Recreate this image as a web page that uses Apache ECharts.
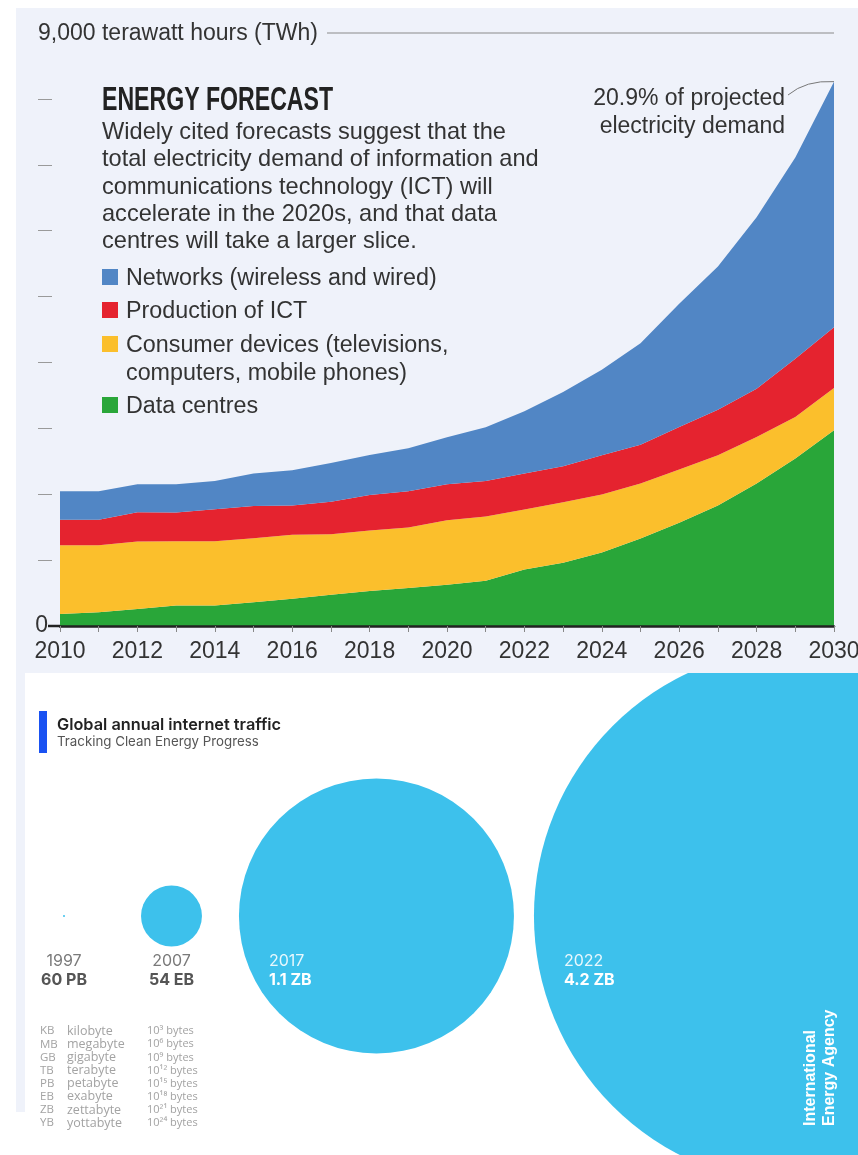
<!DOCTYPE html>
<html>
<head>
<meta charset="utf-8">
<script src="https://cdn.jsdelivr.net/npm/echarts@6/dist/echarts.min.js"></script>
<style>
  html, body { margin: 0; padding: 0; background: #ffffff; width: 858px; height: 1155px; overflow: hidden; }
  #panel { position: absolute; left: 16px; top: 8px; width: 842px; height: 665px; background: #eff2fa; }
  #strip { position: absolute; left: 16px; top: 673px; width: 9px; height: 439px; background: #eff2fa; }
  #topChart { position: absolute; left: 0; top: 0; width: 858px; height: 673px; }
  #bottomChart { position: absolute; left: 0; top: 673px; width: 858px; height: 482px; }
</style>
</head>
<body>
<div id="panel"></div>
<div id="strip"></div>
<div id="topChart"></div>
<div id="bottomChart"></div>
<script>
// ---------------- DATA: energy forecast (TWh) ----------------
const years = ['2010','2011','2012','2013','2014','2015','2016','2017','2018','2019','2020',
               '2021','2022','2023','2024','2025','2026','2027','2028','2029','2030'];
const dataCentres = [182, 207, 258, 313, 313, 359, 414, 475, 530, 576, 626, 687, 859, 960, 1116, 1328, 1566, 1828, 2162, 2541, 2970];
const consumerDevices = [1045, 1020, 1025, 975, 975, 974, 970, 919, 919, 919, 980, 975, 909, 919, 879, 834, 808, 763, 706, 630, 641];
const productionICT = [384, 384, 444, 434, 485, 490, 444, 490, 541, 550, 546, 540, 545, 545, 596, 588, 646, 692, 733, 885, 924];
const networks = [434, 434, 425, 430, 429, 490, 536, 591, 606, 652, 712, 813, 945, 1127, 1298, 1543, 1869, 2172, 2601, 3055, 3727];
const yMax = 9000;
const yTicks = [1000, 2000, 3000, 4000, 5000, 6000, 7000, 8000];
const seriesNames = ['Networks (wireless and wired)', 'Production of ICT',
                     'Consumer devices (televisions,\ncomputers, mobile phones)', 'Data centres'];

// ---------------- DATA: global annual internet traffic ----------------
const trafficYears = ['1997', '2007', '2017', '2022'];
const trafficZB = [0.00006, 0.054, 1.1, 4.2];           // zettabytes
const trafficLabels = ['60 PB', '54 EB', '1.1 ZB', '4.2 ZB'];
const unitAbbr = ['KB','MB','GB','TB','PB','EB','ZB','YB'];
const unitName = ['kilobyte','megabyte','gigabyte','terabyte','petabyte','exabyte','zettabyte','yottabyte'];
const unitBytes = ['10³ bytes','10⁶ bytes','10⁹ bytes','10¹² bytes','10¹⁵ bytes','10¹⁸ bytes','10²¹ bytes','10²⁴ bytes'];

// ---------------- STYLE ----------------
const FONT = "'Liberation Sans', Arial, sans-serif";
const TXT = '#333333';
const COLORS = { net: '#5186c5', prod: '#e5232f', cons: '#fbbf2c', dc: '#29a639' };
const BUBBLE = '#3dc1ec';

// ================= TOP CHART =================
const topChart = echarts.init(document.getElementById('topChart'), null, { renderer: 'canvas' });
function area(name, data, color) {
  return { name, type: 'line', stack: 'total', data, symbol: 'none', smooth: false,
           lineStyle: { width: 0 }, areaStyle: { color, opacity: 1 }, itemStyle: { color },
           silent: true };
}
topChart.setOption({
  animation: false,
  grid: { left: 60, right: 24, top: 33, bottom: 47, outerBoundsMode: 'none', containLabel: false },
  xAxis: {
    type: 'category', data: years, boundaryGap: false, z: 10,
    axisLine: { lineStyle: { color: '#222', width: 2.5 } },
    axisTick: { interval: 0, length: 6, lineStyle: { color: '#888', width: 1 } },
    axisLabel: { interval: 1, margin: 14, fontSize: 23, color: TXT, fontFamily: FONT, hideOverlap: false }
  },
  yAxis: {
    type: 'value', min: 0, max: yMax, interval: 1000, offset: 8,
    splitLine: { show: false },
    axisLine: { show: false },
    axisTick: { show: true, length: 14, customValues: yTicks, lineStyle: { color: '#9a9a9a', width: 1 } },
    axisLabel: { customValues: [0], margin: 4, fontSize: 23, color: TXT, fontFamily: FONT }
  },
  series: [
    area(seriesNames[3], dataCentres, COLORS.dc),
    area(seriesNames[2], consumerDevices, COLORS.cons),
    area(seriesNames[1], productionICT, COLORS.prod),
    area(seriesNames[0], networks, COLORS.net)
  ]
});

// positions derived from the axes
const yTop = topChart.convertToPixel({ yAxisIndex: 0 }, yMax);
const yZero = topChart.convertToPixel({ yAxisIndex: 0 }, 0);
const xFirst = topChart.convertToPixel({ xAxisIndex: 0 }, years[0]);
const last = years.length - 1;
const total2030 = dataCentres[last] + consumerDevices[last] + productionICT[last] + networks[last];
const pEnd = topChart.convertToPixel({ xAxisIndex: 0, yAxisIndex: 0 }, [years[last], total2030]);

const legendItems = [
  { name: seriesNames[0], color: COLORS.net, y: 277 },
  { name: seriesNames[1], color: COLORS.prod, y: 310 },
  { name: seriesNames[2], color: COLORS.cons, y: 344 },
  { name: seriesNames[3], color: COLORS.dc, y: 405 }
];
const topGraphics = [
  { type: 'text', x: 38, y: yTop + 1, silent: true,
    style: { text: '9,000 terawatt hours (TWh)', font: '23px ' + FONT, fill: TXT, verticalAlign: 'middle', align: 'left' } },
  { type: 'line', silent: true, shape: { x1: 327, y1: yTop, x2: pEnd[0], y2: yTop },
    style: { stroke: '#8a8a8a', lineWidth: 1 } },
  { type: 'line', silent: true, z: 10, shape: { x1: 48, y1: yZero, x2: xFirst, y2: yZero },
    style: { stroke: '#222', lineWidth: 2.5 } },
  { type: 'text', x: 102, y: 101, scaleX: 0.70, silent: true,
    style: { text: 'ENERGY FORECAST', font: 'bold 33px ' + FONT, fill: '#222', verticalAlign: 'middle', align: 'left' } },
  { type: 'text', x: 102, y: 119, silent: true,
    style: { text: 'Widely cited forecasts suggest that the\ntotal electricity demand of information and\ncommunications technology (ICT) will\naccelerate in the 2020s, and that data\ncentres will take a larger slice.',
             font: '23.6px ' + FONT, fill: TXT, lineHeight: 27.3, verticalAlign: 'top', align: 'left' } },
  { type: 'text', x: 785, y: 85, silent: true,
    style: { text: '20.9% of projected\nelectricity demand', font: '23px ' + FONT, fill: TXT, lineHeight: 28, verticalAlign: 'top', align: 'right' } },
  { type: 'bezierCurve', silent: true,
    shape: { x1: 788, y1: 95, cpx1: 806, cpy1: 80, x2: pEnd[0], y2: pEnd[1] },
    style: { stroke: '#777', lineWidth: 1, fill: null } }
];
legendItems.forEach(it => {
  topGraphics.push({ type: 'rect', silent: true, shape: { x: 102, y: it.y - 8, width: 16, height: 16 }, style: { fill: it.color } });
  const twoLine = it.name.indexOf('\n') >= 0;
  topGraphics.push({ type: 'text', x: 126, y: twoLine ? it.y - 12 : it.y + 2, silent: true,
    style: { text: it.name, font: '23.3px ' + FONT, fill: TXT, lineHeight: 28,
             verticalAlign: twoLine ? 'top' : 'middle', align: 'left' } });
});
topChart.setOption({ graphic: topGraphics });

// ================= BOTTOM CHART (bubbles) =================
const bottomChart = echarts.init(document.getElementById('bottomChart'), null, { renderer: 'canvas' });
const R_REF = 137.5, V_REF = trafficZB[2];            // radius of the reference bubble
const radius = v => R_REF * Math.sqrt(v / V_REF);      // area-proportional
const FIRST_CENTER = 64;
const GAPS = [76, 37, 20];                             // edge-to-edge spacing
const centers = [];
trafficZB.forEach((v, i) => {
  if (i === 0) centers.push(FIRST_CENTER);
  else centers.push(centers[i - 1] + radius(trafficZB[i - 1]) + GAPS[i - 1] + radius(v));
});
const GEO = "Inter, 'Open Sans', sans-serif";
const bubbleData = trafficZB.map((v, i) => {
  const r = radius(v);
  const inside = r > 60;
  return {
    value: [centers[i], 0, v],
    label: inside
      ? { position: 'inside', align: 'left', offset: [-r + 30, 55],
          rich: { y: { color: 'rgba(255,255,255,0.88)' }, v: { color: '#ffffff' } } }
      : { position: 'inside', align: 'center', offset: [0, 55],
          rich: { y: { color: '#7a7a7a' }, v: { color: '#555555' } } }
  };
});
bottomChart.setOption({
  animation: false,
  grid: { left: 0, right: 0, top: 0, height: 486, outerBoundsMode: 'none' },
  xAxis: { type: 'value', min: 0, max: 858, show: false },
  yAxis: { type: 'value', min: -1, max: 1, show: false },
  series: [{
    type: 'scatter', clip: false, silent: true,
    data: bubbleData,
    symbol: 'circle',
    symbolSize: val => 2 * radius(val[2]),
    itemStyle: { color: BUBBLE, opacity: 1 },
    label: {
      show: true,
      formatter: p => '{y|' + trafficYears[p.dataIndex] + '}\n{v|' + trafficLabels[p.dataIndex] + '}',
      rich: {
        y: { fontFamily: GEO, fontSize: 16, fontWeight: 'normal', lineHeight: 19 },
        v: { fontFamily: GEO, fontSize: 16, fontWeight: 'bold', lineHeight: 19 }
      }
    }
  }],
  graphic: [
    { type: 'rect', silent: true, shape: { x: 39, y: 38, width: 8, height: 42 }, style: { fill: '#1a52f2' } },
    { type: 'text', x: 57, y: 52, silent: true,
      style: { text: 'Global annual internet traffic', font: '600 16.3px ' + GEO, fill: '#222', verticalAlign: 'middle' } },
    { type: 'text', x: 57, y: 69, silent: true,
      style: { text: 'Tracking Clean Energy Progress', font: '13.3px ' + GEO, fill: '#555', verticalAlign: 'middle' } },
    { type: 'text', x: 40, y: 351.5, silent: true,
      style: { text: unitAbbr.join('\n'), font: "11.5px 'Open Sans', sans-serif", fill: '#a3a3a3', lineHeight: 13.15, verticalAlign: 'top' } },
    { type: 'text', x: 67, y: 351.5, silent: true,
      style: { text: unitName.join('\n'), font: "12.5px 'Open Sans', sans-serif", fill: '#a3a3a3', lineHeight: 13.15, verticalAlign: 'top' } },
    { type: 'text', x: 147, y: 351.5, silent: true,
      style: { text: unitBytes.join('\n'), font: "11px 'Open Sans', sans-serif", fill: '#a3a3a3', lineHeight: 13.15, verticalAlign: 'top' } },
    { type: 'text', x: 820, y: 453, rotation: Math.PI / 2, silent: true, z: 20,
      style: { text: 'International\nEnergy Agency', font: "bold 16px 'Liberation Sans', Arial, sans-serif", fill: '#ffffff',
               lineHeight: 19, align: 'left', verticalAlign: 'middle' } }
  ]
});
</script>
</body>
</html>
